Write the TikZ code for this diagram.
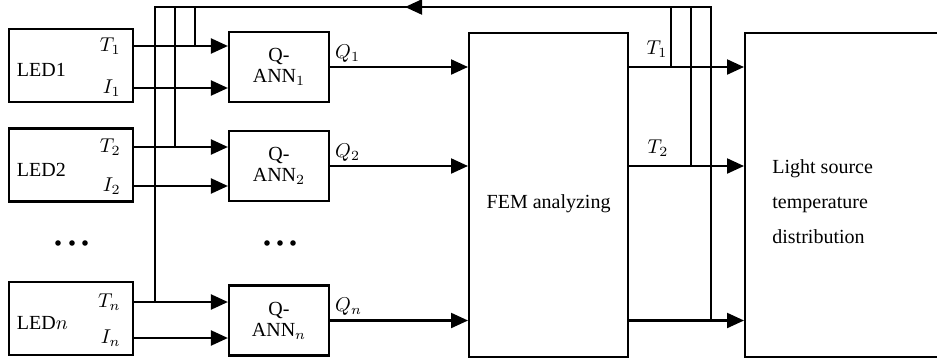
\documentclass[tikz,border=0pt]{standalone}
\usepackage{amsmath}
\usepackage{fontspec}
\setmainfont{Liberation Serif}
\newfontfamily\diagfont{Liberation Serif}
\usetikzlibrary{arrows.meta}

\tikzset{
  every node/.append style={font=\diagfont},
  wire/.style={line width=1.1pt},
  sig/.style={wire,-{Triangle[length=8.5pt,width=7.5pt]}},
  ledbox/.style={draw,wire,minimum width=62pt,minimum height=36.5pt,text width=54pt,inner xsep=4pt,align=left,text height=11pt,text depth=0pt},
  annbox/.style={draw,wire,minimum width=50pt,minimum height=35pt,inner sep=0pt,align=center,font=\diagfont\fontsize{10}{10.5}\selectfont},
  bigbox/.style={draw,wire,anchor=north west,minimum height=162pt,inner sep=0pt},
  port/.style={inner sep=1pt,anchor=east},
}

\begin{document}
\begin{tikzpicture}[x=0.5pt,y=-0.5pt]
  \path[use as bounding box,clip] (0,0) rectangle (937,359);

  \node[bigbox,minimum width=79.5pt,text height=15pt,text depth=2pt] (fem) at (468,32) {FEM analyzing};
  \node[bigbox,minimum width=120pt] (dist) at (744,32) {};
  \node[anchor=west,align=left,inner sep=0pt,font=\diagfont\fontsize{10}{17.5}\selectfont] (distText) at (772,202) {Light source\\temperature\\distribution};

  \foreach \i/\name/\yc/\yt/\yi/\ya in {1/LED1/65.5/46/88/67, 2/LED2/165/147/186/166, n/LED$n$/318.5/302/338/320.5}{
    \node[ledbox] (led\i) at (71,\yc) {\name};
    \node[port] (t\i) at (123,\yt) {$T_\i$};
    \node[port] (i\i) at (123,\yi) {$I_\i$};
    \node[annbox] (ann\i) at (279,\ya) {Q-\\ANN$_\i$};
    \draw[sig] (led\i.east |- t\i) -- (ann\i.west |- t\i);
    \draw[sig] (led\i.east |- i\i) -- (ann\i.west |- i\i);
    \draw[sig] (ann\i.east) -- (fem.west |- ann\i) node[pos=0,anchor=south west,inner sep=2pt] {$Q_\i$};
    \draw[sig] (fem.east |- ann\i) -- (dist.west |- ann\i);
  }
  \node[inner sep=0pt,anchor=south] (out1) at (657,58) {$T_1$};
  \node[inner sep=0pt,anchor=south] (out2) at (658,157) {$T_2$};

  % feedback of the temperatures
  \coordinate (fbL) at (155,7);
  \coordinate (fbT2) at (175,7);
  \coordinate (fbT1) at (195,7);
  \coordinate (fbTip) at (405,7);
  \coordinate (fb1) at (671,7);
  \coordinate (fb2) at (691,7);
  \coordinate (fbR) at (711,7);
  \draw[wire] (annn -| fbR) -- (fbR) -- (fbL) -- (tn -| fbL);
  \draw[sig] (fbR) -- (fbTip);
  \draw[wire] (ann1 -| fb1) -- (fb1);
  \draw[wire] (ann2 -| fb2) -- (fb2);
  \draw[wire] (t1 -| fbT1) -- (fbT1);
  \draw[wire] (t2 -| fbT2) -- (fbT2);

  \foreach \x in {58,72,85,267,280,293} \fill (\x,243) circle (1.4pt);
\end{tikzpicture}
\end{document}
